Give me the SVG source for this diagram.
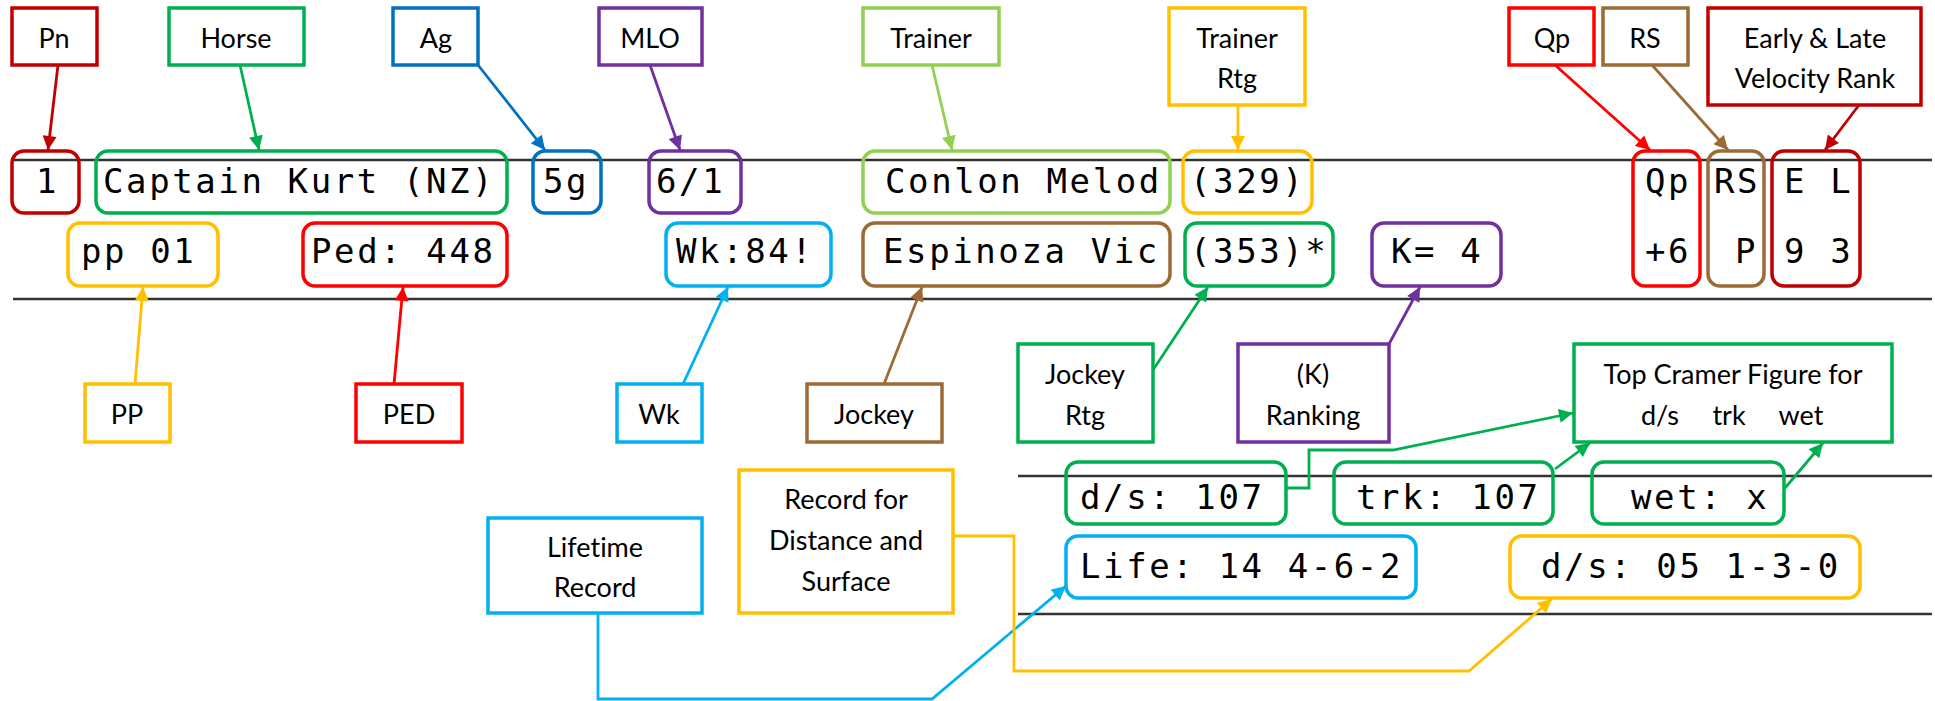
<svg xmlns="http://www.w3.org/2000/svg" width="1935" height="701" viewBox="0 0 1935 701">
<style>
.lb{fill:#fff;stroke-width:3.5}
.lt{font-family:Lato,"Noto Sans",sans-serif;font-size:27px;fill:#000;text-anchor:middle;font-variant-ligatures:none}
.db{fill:none;stroke-width:3.5}
.mt{font-family:"DejaVu Sans Mono","Liberation Mono",monospace;font-size:34px;letter-spacing:2.6px;fill:#000}
.rule{stroke:#333;stroke-width:2.5;fill:none}
.c{fill:none;stroke-width:2.8}
.dr{stroke:#C00000}.gr{stroke:#00B050}.bl{stroke:#0070C0}.pu{stroke:#7030A0}.lg{stroke:#92D050}
.go{stroke:#FFC000}.re{stroke:#FF0000}.br{stroke:#9C6A36}.cy{stroke:#00B0F0}
</style>
<defs>
<marker id="m-dr" viewBox="0 0 10 10" refX="10" refY="5" markerUnits="userSpaceOnUse" markerWidth="15" markerHeight="14" orient="auto"><path d="M0,0 L10,5 L0,10 z" fill="#C00000"/></marker>
<marker id="m-gr" viewBox="0 0 10 10" refX="10" refY="5" markerUnits="userSpaceOnUse" markerWidth="15" markerHeight="14" orient="auto"><path d="M0,0 L10,5 L0,10 z" fill="#00B050"/></marker>
<marker id="m-bl" viewBox="0 0 10 10" refX="10" refY="5" markerUnits="userSpaceOnUse" markerWidth="15" markerHeight="14" orient="auto"><path d="M0,0 L10,5 L0,10 z" fill="#0070C0"/></marker>
<marker id="m-pu" viewBox="0 0 10 10" refX="10" refY="5" markerUnits="userSpaceOnUse" markerWidth="15" markerHeight="14" orient="auto"><path d="M0,0 L10,5 L0,10 z" fill="#7030A0"/></marker>
<marker id="m-lg" viewBox="0 0 10 10" refX="10" refY="5" markerUnits="userSpaceOnUse" markerWidth="15" markerHeight="14" orient="auto"><path d="M0,0 L10,5 L0,10 z" fill="#92D050"/></marker>
<marker id="m-go" viewBox="0 0 10 10" refX="10" refY="5" markerUnits="userSpaceOnUse" markerWidth="15" markerHeight="14" orient="auto"><path d="M0,0 L10,5 L0,10 z" fill="#FFC000"/></marker>
<marker id="m-re" viewBox="0 0 10 10" refX="10" refY="5" markerUnits="userSpaceOnUse" markerWidth="15" markerHeight="14" orient="auto"><path d="M0,0 L10,5 L0,10 z" fill="#FF0000"/></marker>
<marker id="m-br" viewBox="0 0 10 10" refX="10" refY="5" markerUnits="userSpaceOnUse" markerWidth="15" markerHeight="14" orient="auto"><path d="M0,0 L10,5 L0,10 z" fill="#9C6A36"/></marker>
<marker id="m-cy" viewBox="0 0 10 10" refX="10" refY="5" markerUnits="userSpaceOnUse" markerWidth="15" markerHeight="14" orient="auto"><path d="M0,0 L10,5 L0,10 z" fill="#00B0F0"/></marker>
</defs>
<rect width="1935" height="701" fill="#fff"/>

<g id="rules">
<line class="rule" x1="13" y1="160" x2="1932" y2="160"/>
<line class="rule" x1="13" y1="299" x2="1932" y2="299"/>
<line class="rule" x1="1018" y1="476" x2="1932" y2="476"/>
<line class="rule" x1="1018" y1="614" x2="1932" y2="614"/>
</g>

<g id="connectors">
<line class="c dr" x1="58" y1="65" x2="48" y2="150" marker-end="url(#m-dr)"/>
<line class="c gr" x1="240" y1="65" x2="259" y2="150" marker-end="url(#m-gr)"/>
<line class="c bl" x1="478" y1="65" x2="545" y2="150" marker-end="url(#m-bl)"/>
<line class="c pu" x1="650" y1="65" x2="680" y2="150" marker-end="url(#m-pu)"/>
<line class="c lg" x1="932" y1="65" x2="952" y2="150" marker-end="url(#m-lg)"/>
<line class="c go" x1="1238" y1="105" x2="1238" y2="150" marker-end="url(#m-go)"/>
<line class="c re" x1="1555" y1="65" x2="1650" y2="150" marker-end="url(#m-re)"/>
<line class="c br" x1="1652" y1="65" x2="1728" y2="150" marker-end="url(#m-br)"/>
<line class="c dr" x1="1859" y1="105" x2="1825" y2="150" marker-end="url(#m-dr)"/>
<line class="c go" x1="135" y1="384" x2="143" y2="287" marker-end="url(#m-go)"/>
<line class="c re" x1="394" y1="384" x2="403" y2="287" marker-end="url(#m-re)"/>
<line class="c cy" x1="683" y1="384" x2="728" y2="287" marker-end="url(#m-cy)"/>
<line class="c br" x1="884" y1="384" x2="922" y2="287" marker-end="url(#m-br)"/>
<line class="c gr" x1="1153" y1="370" x2="1208" y2="287" marker-end="url(#m-gr)"/>
<line class="c pu" x1="1389" y1="344" x2="1420" y2="287" marker-end="url(#m-pu)"/>
<polyline class="c gr" points="1286,488 1309,488 1309,450 1393,450 1573,413" marker-end="url(#m-gr)"/>
<line class="c gr" x1="1555" y1="469" x2="1590" y2="443" marker-end="url(#m-gr)"/>
<line class="c gr" x1="1785" y1="488" x2="1823" y2="443" marker-end="url(#m-gr)"/>
<polyline class="c cy" points="598,613 598,699 932,699 1066,586" marker-end="url(#m-cy)"/>
<polyline class="c go" points="953,536 1014,536 1014,671 1469,671 1552,599" marker-end="url(#m-go)"/>
</g>

<g id="lbl-pn"><rect class="lb dr" x="12" y="8" width="85" height="57"/><text class="lt" x="54" y="48">Pn</text></g>
<g id="lbl-horse"><rect class="lb gr" x="169" y="8" width="135" height="57"/><text class="lt" x="236" y="48">Horse</text></g>
<g id="lbl-ag"><rect class="lb bl" x="393" y="8" width="85" height="57"/><text class="lt" x="436" y="48">Ag</text></g>
<g id="lbl-mlo"><rect class="lb pu" x="599" y="8" width="103" height="57"/><text class="lt" x="650" y="48">MLO</text></g>
<g id="lbl-trainer"><rect class="lb lg" x="863" y="8" width="136" height="57"/><text class="lt" x="931" y="48">Trainer</text></g>
<g id="lbl-trainer-rtg"><rect class="lb go" x="1169" y="8" width="136" height="97"/><text class="lt" x="1237" y="48">Trainer</text><text class="lt" x="1237" y="88">Rtg</text></g>
<g id="lbl-qp"><rect class="lb re" x="1509" y="8" width="85" height="57"/><text class="lt" x="1552" y="48">Qp</text></g>
<g id="lbl-rs"><rect class="lb br" x="1603" y="8" width="85" height="57"/><text class="lt" x="1645" y="48">RS</text></g>
<g id="lbl-velocity"><rect class="lb dr" x="1708" y="8" width="213" height="97"/><text class="lt" x="1815" y="48">Early &amp; Late</text><text class="lt" x="1815" y="88">Velocity Rank</text></g>
<g id="lbl-pp"><rect class="lb go" x="85" y="384" width="85" height="58"/><text class="lt" x="127" y="424">PP</text></g>
<g id="lbl-ped"><rect class="lb re" x="356" y="384" width="106" height="58"/><text class="lt" x="409" y="424">PED</text></g>
<g id="lbl-wk"><rect class="lb cy" x="617" y="384" width="85" height="58"/><text class="lt" x="659" y="424">Wk</text></g>
<g id="lbl-jockey"><rect class="lb br" x="807" y="384" width="135" height="58"/><text class="lt" x="874" y="424">Jockey</text></g>
<g id="lbl-jockey-rtg"><rect class="lb gr" x="1018" y="344" width="135" height="98"/><text class="lt" x="1085" y="384">Jockey</text><text class="lt" x="1085" y="425">Rtg</text></g>
<g id="lbl-k"><rect class="lb pu" x="1238" y="344" width="151" height="98"/><text class="lt" x="1313" y="384">(K)</text><text class="lt" x="1313" y="425">Ranking</text></g>
<g id="lbl-cramer"><rect class="lb gr" x="1574" y="344" width="318" height="98"/><text class="lt" x="1733" y="384">Top Cramer Figure for</text><text class="lt" y="425"><tspan x="1660">d/s</tspan><tspan x="1729">trk</tspan><tspan x="1801">wet</tspan></text></g>
<g id="lbl-lifetime"><rect class="lb cy" x="488" y="518" width="214" height="95"/><text class="lt" x="595" y="557">Lifetime</text><text class="lt" x="595" y="597">Record</text></g>
<g id="lbl-record"><rect class="lb go" x="739" y="470" width="214" height="143"/><text class="lt" x="846" y="509">Record for</text><text class="lt" x="846" y="550">Distance and</text><text class="lt" x="846" y="591">Surface</text></g>

<g id="n-pos"><rect class="db dr" x="12" y="151" width="67" height="62" rx="12"/><text class="mt" x="36" y="193">1</text></g>
<g id="n-horse"><rect class="db gr" x="96" y="151" width="411" height="62" rx="12"/><text class="mt" x="103" y="193">Captain Kurt (NZ)</text></g>
<g id="n-age"><rect class="db bl" x="533" y="151" width="68" height="62" rx="12"/><text class="mt" x="543" y="193">5g</text></g>
<g id="n-mlo"><rect class="db pu" x="649" y="151" width="92" height="62" rx="12"/><text class="mt" x="656" y="193">6/1</text></g>
<g id="n-trainer"><rect class="db lg" x="863" y="151" width="307" height="62" rx="12"/><text class="mt" x="885" y="193">Conlon Melod</text></g>
<g id="n-trainer-rtg"><rect class="db go" x="1183" y="151" width="129" height="62" rx="12"/><text class="mt" x="1190" y="193">(329)</text></g>
<g id="n-qp"><rect class="db re" x="1633" y="151" width="67" height="135" rx="12"/><text class="mt" x="1645" y="193">Qp</text><text class="mt" x="1645" y="263">+6</text></g>
<g id="n-rs"><rect class="db br" x="1708" y="151" width="56" height="135" rx="12"/><text class="mt" x="1714" y="193">RS</text><text class="mt" x="1735" y="263">P</text></g>
<g id="n-el"><rect class="db dr" x="1772" y="151" width="88" height="135" rx="12"/><text class="mt" x="1784" y="193">E L</text><text class="mt" x="1784" y="263">9 3</text></g>
<g id="n-pp"><rect class="db go" x="68" y="223" width="150" height="63" rx="12"/><text class="mt" x="81" y="263">pp 01</text></g>
<g id="n-ped"><rect class="db re" x="303" y="223" width="204" height="63" rx="12"/><text class="mt" x="311" y="263">Ped: 448</text></g>
<g id="n-wk"><rect class="db cy" x="666" y="223" width="165" height="63" rx="12"/><text class="mt" x="676" y="263">Wk:84!</text></g>
<g id="n-jockey"><rect class="db br" x="863" y="223" width="307" height="63" rx="12"/><text class="mt" x="883" y="263">Espinoza Vic</text></g>
<g id="n-jockey-rtg"><rect class="db gr" x="1185" y="223" width="148" height="63" rx="12"/><text class="mt" x="1190" y="263">(353)*</text></g>
<g id="n-k"><rect class="db pu" x="1372" y="223" width="129" height="63" rx="12"/><text class="mt" x="1391" y="263">K= 4</text></g>
<g id="n-cramer-ds"><rect class="db gr" x="1066" y="462" width="220" height="62" rx="12"/><text class="mt" x="1080" y="509">d/s: 107</text></g>
<g id="n-cramer-trk"><rect class="db gr" x="1334" y="462" width="219" height="62" rx="12"/><text class="mt" x="1356" y="509">trk: 107</text></g>
<g id="n-cramer-wet"><rect class="db gr" x="1592" y="462" width="192" height="62" rx="12"/><text class="mt" x="1631" y="509">wet: x</text></g>
<g id="n-life"><rect class="db cy" x="1066" y="536" width="350" height="62" rx="12"/><text class="mt" x="1080" y="578">Life: 14 4-6-2</text></g>
<g id="n-record-ds"><rect class="db go" x="1510" y="536" width="350" height="62" rx="12"/><text class="mt" x="1541" y="578">d/s: 05 1-3-0</text></g>
</svg>
